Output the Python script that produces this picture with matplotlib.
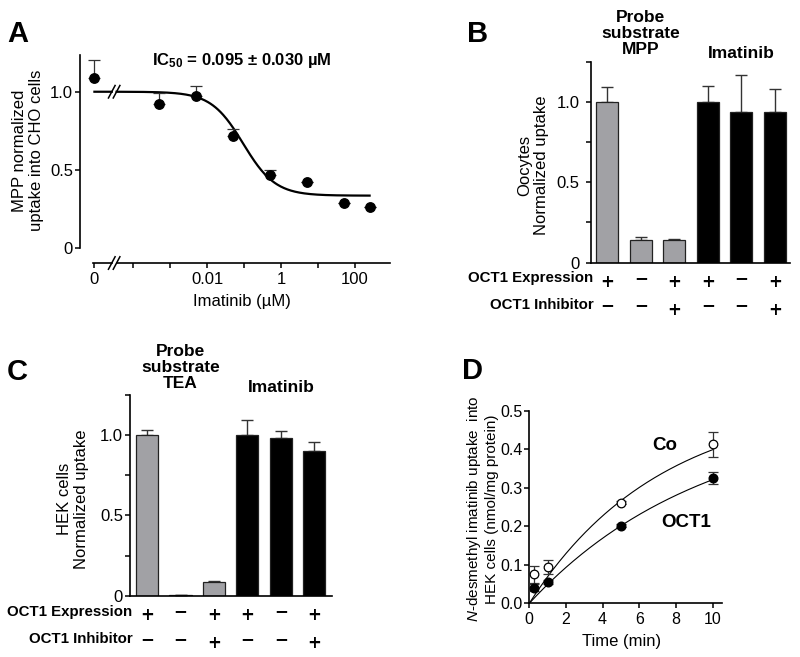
import numpy as np
import matplotlib
matplotlib.use('Agg')
import matplotlib.pyplot as plt
from matplotlib.transforms import blended_transform_factory

plt.rcParams['font.family'] = ['Liberation Sans', 'DejaVu Sans']
plt.rcParams['mathtext.fontset'] = 'custom'
plt.rcParams['mathtext.rm'] = 'Liberation Sans'
plt.rcParams['mathtext.it'] = 'Liberation Sans:italic'
plt.rcParams['mathtext.bf'] = 'Liberation Sans:bold'

# ---------------- data ----------------
# Panel A: imatinib inhibition of MPP uptake
a_conc = [0, 0.0005, 0.005, 0.05, 0.5, 5, 50, 250]
a_uptake = [1.085, 0.92, 0.975, 0.715, 0.47, 0.425, 0.29, 0.265]
a_err = [0.115, 0.073, 0.06, 0.045, 0.03, 0.0, 0.0, 0.0]
a_top, a_bottom, a_ic50, a_hill = 1.0, 0.335, 0.095, 1.0
a_xtick_vals = [0, 0.01, 1, 100]
a_xticklabels = ['0', '0.01', '1', '100']

# Panels B, C: bar conditions
bar_expr = ['+', '−', '+', '+', '−', '+']
bar_inhib = ['−', '−', '+', '−', '−', '+']
bar_group = ['probe', 'probe', 'probe', 'imatinib', 'imatinib', 'imatinib']
b_vals = [1.0, 0.14, 0.14, 1.0, 0.94, 0.94]
b_err = [0.094, 0.02, 0.005, 0.10, 0.225, 0.14]
c_vals = [1.0, 0.007, 0.083, 1.0, 0.98, 0.90]
c_err = [0.03, 0.0, 0.008, 0.096, 0.047, 0.055]

# Panel D: time course
d_time = [0.25, 1, 5, 10]
d_co = [0.075, 0.094, 0.262, 0.413]
d_co_err = [0.021, 0.019, 0.004, 0.032]
d_oct1 = [0.041, 0.056, 0.202, 0.325]
d_oct1_err = [0.008, 0.005, 0.004, 0.016]
d_co_fit = (0.53, 0.14)      # (Ymax, k)
d_oct1_fit = (0.497, 0.104)

# ---------------- figure ----------------
W, H = 800, 657
fig = plt.figure(figsize=(W / 100, H / 100), dpi=100)


def add_ax(left, top, right, bottom):
    return fig.add_axes([left / W, 1 - bottom / H, (right - left) / W, (bottom - top) / H])


def ftxt(x, y, s, **kw):
    return fig.text(x / W, 1 - y / H, s, **kw)


def style(ax, fs=12, ypad=3, xpad=2.5):
    for s in ['top', 'right']:
        ax.spines[s].set_visible(False)
    for s in ['left', 'bottom']:
        ax.spines[s].set_linewidth(1.2)
    ax.tick_params(which='both', direction='out', length=3.8, width=1.1, labelsize=fs)
    ax.tick_params(axis='y', which='both', pad=ypad)
    ax.tick_params(axis='x', which='both', pad=xpad)


# ---------------- Panel A ----------------
axA = add_ax(80, 55, 390, 263)
style(axA, 12, ypad=1.2)
ZERO_POS = -5.05
xposA = [ZERO_POS if c == 0 else np.log10(c) for c in a_conc]
axA.set_xlim(-5.44, 2.95)
axA.set_ylim(-0.096, 1.235)
axA.spines['left'].set_bounds(0, 1.235)
axA.spines['bottom'].set_bounds(-4.45, 2.95)
# left axis piece + break marks
yb = -0.096
axA.plot([ZERO_POS - 0.03, -4.58], [yb, yb], color='black', lw=1.2, clip_on=False)
for xc in (-4.58, -4.45):
    axA.plot([xc - 0.09, xc + 0.09], [yb - 0.04, yb + 0.04], color='black', lw=1.1, clip_on=False)
    axA.plot([xc - 0.09, xc + 0.09], [1.0 - 0.04, 1.0 + 0.04], color='black', lw=1.1, clip_on=False)


def hill(x):
    return a_bottom + (a_top - a_bottom) / (1 + 10 ** ((x - np.log10(a_ic50)) * a_hill))


xl = np.linspace(ZERO_POS, -4.58, 20)
xr = np.linspace(-4.45, np.log10(a_conc[-1]), 300)
axA.plot(xl, hill(xl), color='black', lw=1.6)
axA.plot(xr, hill(xr), color='black', lw=1.6)
axA.errorbar(xposA, a_uptake, yerr=[np.zeros(len(a_err)), a_err], fmt='none',
             ecolor='#333333', elinewidth=0.9, capsize=4.5, capthick=0.9, zorder=2)
axA.plot(xposA, a_uptake, 'o', color='black', ms=6.8, zorder=3, clip_on=False)
axA.set_xticks([ZERO_POS if v == 0 else np.log10(v) for v in a_xtick_vals])
axA.set_xticklabels(a_xticklabels)
axA.set_xticks([-4, -3, -1, 1], minor=True)
axA.set_yticks([0, 0.5, 1.0])
axA.set_yticklabels(['0', '0.5', '1.0'])
ftxt(242, 301.7, 'Imatinib (µM)', ha='center', va='center', fontsize=12)
ftxt(28, 150.5, 'MPP normalized\nuptake into CHO cells', rotation=90, ha='center',
     va='center', fontsize=12, linespacing=1.1, multialignment='center')
ftxt(242, 60, r'$\mathbf{IC_{50}}$ = 0.095 ± 0.030 µM', ha='center', va='center',
     fontsize=12, fontweight='bold')
ftxt(17.5, 33.5, 'A', ha='center', va='center', fontsize=21, fontweight='bold')


# ---------------- Panels B / C ----------------
def bar_panel(ax, vals, errs, probe_name, sign_rows, label_right, title_y, title_sp, ypad):
    style(ax, 12, ypad=ypad)
    x = np.arange(len(vals))
    colors = ['#a1a1a5' if g == 'probe' else 'black' for g in bar_group]
    ax.errorbar(x, vals, yerr=[np.zeros(len(errs)), errs], fmt='none', ecolor='#333333',
                elinewidth=1.0, capsize=4.5, capthick=1.0, zorder=1)
    ax.bar(x, vals, width=0.66, color=colors, edgecolor='#222222', linewidth=0.9, zorder=2)
    ax.set_ylim(0, 1.25)
    ax.set_xticks([])
    ax.set_yticks([0, 0.5, 1.0])
    ax.set_yticklabels(['0', '0.5', '1.0'])
    ax.set_yticks([0.25, 0.75, 1.25], minor=True)
    tr = blended_transform_factory(ax.transData, fig.transFigure)
    (y1l, y1m, y1p), (y2l, y2m, y2p) = sign_rows
    ftxt(label_right, y1l, 'OCT1 Expression', ha='right', va='center', fontsize=10.8,
         fontweight='bold')
    ftxt(label_right + 1, y2l, 'OCT1 Inhibitor', ha='right', va='center', fontsize=10.8,
         fontweight='bold')
    for xi, (se, si) in enumerate(zip(bar_expr, bar_inhib)):
        ax.text(xi, 1 - (y1p if se == '+' else y1m) / H, se, transform=tr, ha='center',
                va='center', fontsize=12, fontweight='bold', family='DejaVu Sans')
        ax.text(xi, 1 - (y2p if si == '+' else y2m) / H, si, transform=tr, ha='center',
                va='center', fontsize=12, fontweight='bold', family='DejaVu Sans')
    ax.text(1, 1 - (title_y - title_sp) / H, 'Probe\nsubstrate\n' + probe_name, transform=tr,
            ha='center', va='center', fontsize=12.5, fontweight='bold', linespacing=1.12)
    ax.text(4, 1 - title_y / H, 'Imatinib', transform=tr, ha='center', va='center',
            fontsize=12.5, fontweight='bold')


axB = add_ax(590.7, 61.7, 790, 262.7)
axB.set_xlim(-0.49, 5.45)
bar_panel(axB, b_vals, b_err, 'MPP', ((278, 278, 282), (305, 305, 310)), 593, 53, 19.5, 4)
ftxt(533, 165, 'Oocytes\nNormalized uptake', rotation=90, ha='center', va='center',
     fontsize=12, linespacing=1.1, multialignment='center')
ftxt(478, 34.5, 'B', ha='center', va='center', fontsize=21, fontweight='bold')

axC = add_ax(130, 395, 332, 595.7)
axC.set_xlim(-0.51, 5.53)
bar_panel(axC, c_vals, c_err, 'TEA', ((611.7, 611, 615), (639.3, 639, 643.3)), 132, 388, 20.5, 1.2)
ftxt(73, 499, 'HEK cells\nNormalized uptake', rotation=90, ha='center', va='center',
     fontsize=12, linespacing=1.1, multialignment='center')
ftxt(17, 372, 'C', ha='center', va='center', fontsize=21, fontweight='bold')

# ---------------- Panel D ----------------
axD = add_ax(529.3, 411, 721.7, 603.3)
style(axD, 11.5, ypad=0.8)
axD.set_xlim(0, 10.5)
axD.set_ylim(0, 0.5)
tt = np.linspace(0, 10, 200)
axD.plot(tt, d_co_fit[0] * (1 - np.exp(-d_co_fit[1] * tt)), color='black', lw=0.8)
axD.plot(tt, d_oct1_fit[0] * (1 - np.exp(-d_oct1_fit[1] * tt)), color='black', lw=0.8)
axD.errorbar(d_time, d_co, yerr=d_co_err, fmt='o', mfc='white', mec='black', mew=0.9,
             ms=6.2, ecolor='#333333', elinewidth=0.9, capsize=3.6, capthick=0.9,
             clip_on=False, zorder=3)
axD.errorbar(d_time, d_oct1, yerr=d_oct1_err, fmt='o', mfc='black', mec='black', ms=6.2,
             ecolor='#333333', elinewidth=0.9, capsize=3.6, capthick=0.9,
             clip_on=False, zorder=4)
axD.set_xticks([0, 2, 4, 6, 8, 10])
axD.set_yticks([0.0, 0.1, 0.2, 0.3, 0.4, 0.5])
axD.set_yticklabels(['0.0', '0.1', '0.2', '0.3', '0.4', '0.5'])
axD.text(7.4, 0.41, 'Co', ha='center', va='center', fontsize=13.5, fontweight='bold')
axD.text(8.55, 0.21, 'OCT1', ha='center', va='center', fontsize=13.5, fontweight='bold')
ftxt(622, 641.7, 'Time (min)', ha='center', va='center', fontsize=12)
ftxt(482, 509, '$N$-desmethyl imatinib uptake  into\nHEK cells (nmol/mg protein)',
     rotation=90, ha='center', va='center', fontsize=11, linespacing=1.15,
     multialignment='center')
ftxt(472, 371, 'D', ha='center', va='center', fontsize=21, fontweight='bold')

fig.savefig('out.png', dpi=100)
